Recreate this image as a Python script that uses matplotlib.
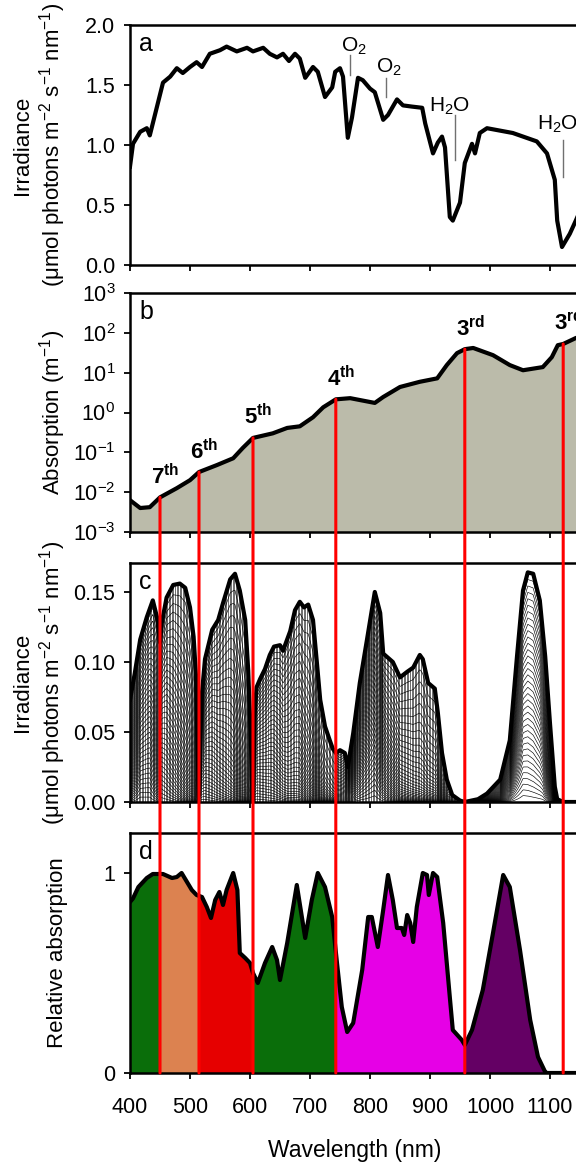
import numpy as np
import matplotlib
matplotlib.use("Agg")
import matplotlib.pyplot as plt
from matplotlib.patches import ConnectionPatch, Rectangle
from matplotlib.ticker import FormatStrFormatter, NullLocator

plt.rcParams['font.family'] = ['Liberation Sans', 'DejaVu Sans']
plt.rcParams['mathtext.fontset'] = 'custom'
plt.rcParams['mathtext.rm'] = 'Liberation Sans'
plt.rcParams['mathtext.it'] = 'Liberation Sans:italic'
plt.rcParams['mathtext.bf'] = 'Liberation Sans:bold'
plt.rcParams['mathtext.default'] = 'regular'

# (a) solar irradiance
a_wl = [400, 405, 417, 428, 433, 445, 455, 467, 478, 488, 500, 511, 520, 533, 550,
        561, 578, 595, 605, 622, 633, 645, 655, 665, 675, 683, 692, 705, 713, 725,
        737, 742, 750, 755, 763, 770, 780, 788, 800, 808, 822, 830, 845, 855, 870,
        887, 892, 905, 913, 920, 925, 933, 938, 950, 958, 970, 975, 983, 995, 1038,
        1078, 1095, 1108, 1112, 1120, 1133, 1143, 1150]
a_irr = [0.82, 1.01, 1.11, 1.14, 1.08, 1.32, 1.52, 1.57, 1.64, 1.60, 1.65, 1.69, 1.65, 1.76, 1.79,
         1.82, 1.78, 1.81, 1.78, 1.81, 1.76, 1.73, 1.76, 1.70, 1.76, 1.72, 1.56, 1.65, 1.61, 1.40,
         1.48, 1.61, 1.64, 1.57, 1.06, 1.23, 1.56, 1.54, 1.47, 1.44, 1.21, 1.25, 1.38, 1.33, 1.32,
         1.31, 1.18, 0.93, 1.02, 1.07, 0.98, 0.40, 0.37, 0.52, 0.85, 1.01, 0.93, 1.10, 1.14, 1.10,
         1.03, 0.93, 0.71, 0.37, 0.15, 0.26, 0.37, 0.45]

gas_labels = ['O$_2$', 'O$_2$', 'H$_2$O', 'H$_2$O']
gas_text_xy = [(773, 1.82), (832, 1.65), (932, 1.32), (1113, 1.17)]
gas_line_x = [767, 827, 942, 1122]
gas_line_y = [(1.75, 1.58), (1.56, 1.40), (1.25, 0.875), (1.04, 0.73)]

# (b) water absorption
b_wl = [400, 417, 433, 450, 478, 500, 515, 545, 572, 588, 605, 638, 662, 683, 705,
        722, 743, 767, 808, 822, 850, 883, 912, 928, 945, 958, 972, 1005, 1033, 1055,
        1088, 1103, 1113, 1122, 1143, 1150]
b_abs = [0.0063, 0.0040, 0.0042, 0.0074, 0.0126, 0.020, 0.032, 0.048, 0.071, 0.129, 0.23, 0.30, 0.41, 0.45, 0.76,
         1.35, 2.14, 2.29, 1.74, 2.45, 4.37, 5.9, 7.2, 15.5, 30.9, 38.9, 41.7, 27.5, 15.5, 11.5,
         13.8, 24.5, 49.0, 52.5, 74.0, 80.0]

overtone_wl = [450, 515, 605, 743, 958, 1122]
overtone_labels = ['7', '6', '5', '4', '3', '3']
overtone_suffix = ['th', 'th', 'th', 'th', 'rd', 'rd']

# (c) irradiance bands, outline of each band
c1_wl = [400, 408, 417, 428, 438, 445, 450]
c1_irr = [0.073, 0.092, 0.116, 0.132, 0.144, 0.132, 0.114]
c2_wl = [450, 453, 461, 472, 483, 492, 500, 506, 510, 513, 515]
c2_irr = [0.114, 0.128, 0.146, 0.155, 0.156, 0.153, 0.139, 0.118, 0.090, 0.035, 0.005]
c3_wl = [515, 517, 520, 525, 537, 547, 555, 567, 575, 583, 592, 597, 601, 604, 605]
c3_irr = [0.005, 0.045, 0.078, 0.102, 0.123, 0.130, 0.142, 0.159, 0.163, 0.151, 0.130, 0.094, 0.050, 0.010, 0.0]
c4_wl = [605, 607, 611, 617, 625, 633, 640, 650, 655, 667, 675, 683, 690, 697, 705,
         712, 717, 725, 733, 738, 743]
c4_irr = [0.0, 0.060, 0.082, 0.088, 0.095, 0.105, 0.111, 0.112, 0.108, 0.122, 0.137, 0.143, 0.139, 0.141, 0.130,
          0.097, 0.073, 0.054, 0.044, 0.038, 0.035]
c5_wl = [743, 750, 758, 763, 772, 783, 795, 803, 808, 817, 822, 830, 838, 850, 862,
         872, 883, 888, 897, 908, 913, 920, 928, 937, 950, 958]
c5_irr = [0.035, 0.037, 0.035, 0.025, 0.049, 0.085, 0.116, 0.137, 0.150, 0.135, 0.106, 0.103, 0.100, 0.089, 0.093,
          0.096, 0.105, 0.102, 0.085, 0.081, 0.064, 0.035, 0.016, 0.005, 0.001, 0.0]
c6_wl = [958, 980, 995, 1017, 1033, 1045, 1055, 1063, 1072, 1083, 1092, 1100, 1108, 1112, 1122, 1150]
c6_irr = [0.0, 0.002, 0.006, 0.016, 0.044, 0.104, 0.151, 0.164, 0.163, 0.144, 0.104, 0.056, 0.011, 0.002, 0.0, 0.0]
c_fractions = np.linspace(0.97, 0.03, 36)

# (d) relative absorption
d_wl = [400, 405, 414, 428, 438, 455, 470, 478, 486, 495, 503, 511, 520, 528, 535,
        542, 549, 555, 561, 572, 579, 583, 592, 600, 605, 613, 625, 637, 645, 650,
        662, 678, 692, 703, 713, 725, 737, 745, 753, 762, 772, 787, 797, 803, 813,
        822, 830, 838, 845, 853, 857, 862, 867, 872, 878, 888, 895, 898, 905, 912,
        922, 933, 938, 953, 958, 970, 988, 1005, 1022, 1033, 1050, 1067, 1080, 1092, 1095, 1150]
d_rel = [0.855, 0.873, 0.93, 0.975, 0.995, 0.995, 0.975, 0.98, 1.0, 0.955, 0.915, 0.89, 0.88, 0.83, 0.775,
         0.865, 0.905, 0.84, 0.915, 1.0, 0.915, 0.60, 0.575, 0.55, 0.50, 0.45, 0.55, 0.63, 0.565, 0.465,
         0.65, 0.94, 0.675, 0.865, 1.0, 0.93, 0.78, 0.55, 0.33, 0.205, 0.25, 0.515, 0.78, 0.78, 0.63,
         0.815, 0.99, 0.865, 0.725, 0.725, 0.69, 0.79, 0.75, 0.655, 0.83, 1.0, 0.99, 0.89, 1.0, 0.98,
         0.75, 0.38, 0.215, 0.165, 0.14, 0.215, 0.415, 0.70, 0.99, 0.93, 0.615, 0.265, 0.08, 0.005, 0.0, 0.0]
band_colors = ['#0a6e0a', '#dc8250', '#e60000', '#0a6e0a', '#e600e6', '#640064']

W, H = 576, 1162
fig = plt.figure(figsize=(W / 100, H / 100), dpi=100)


def panel(top, bottom):
    return fig.add_axes([130 / W, (H - bottom) / H, 450 / W, (bottom - top) / H])


ax_a = panel(25, 265)
ax_b = panel(293, 532)
ax_c = panel(563, 802)
ax_d = panel(833, 1073)

for ax in (ax_a, ax_b, ax_c, ax_d):
    ax.set_xlim(400, 1150)
    ax.set_xticks(range(400, 1101, 100))
    ax.tick_params(direction='out', length=4.5, width=1.3, labelsize=15.5)
    ax.tick_params(axis='y', pad=6)
    ax.tick_params(axis='x', pad=13)
    for s in ax.spines.values():
        s.set_linewidth(1.8)
    ax.yaxis.set_label_coords(-0.138, 0.5)
for ax in (ax_a, ax_b, ax_c):
    ax.tick_params(axis='x', labelbottom=False)

ylab_irr = 'Irradiance\n(μmol photons m$^{-2}$ s$^{-1}$ nm$^{-1}$)'

# panel a
ax_a.plot(a_wl, a_irr, color='black', lw=3, solid_joinstyle='round')
for lab, (tx, ty), lx, (y0, y1) in zip(gas_labels, gas_text_xy, gas_line_x, gas_line_y):
    ax_a.text(tx, ty, lab, ha='center', va='center', fontsize=15)
    ax_a.plot([lx, lx], [y0, y1], color='#707070', lw=1)
ax_a.set_ylim(0, 2.0)
ax_a.set_yticks([0, 0.5, 1.0, 1.5, 2.0])
ax_a.yaxis.set_major_formatter(FormatStrFormatter('%.1f'))
ax_a.set_ylabel(ylab_irr, fontsize=16, linespacing=1.2)

# panel b
ax_b.set_yscale('log')
ax_b.fill_between(b_wl, 1e-3, b_abs, color='#bbbbaa', lw=0)
ax_b.plot(b_wl, b_abs, color='black', lw=3, solid_joinstyle='round')
ax_b.set_ylim(1e-3, 1e3)
ax_b.set_yticks([10.0 ** k for k in range(-3, 4)])
ax_b.yaxis.set_minor_locator(NullLocator())
ax_b.set_ylabel('Absorption (m$^{-1}$)', fontsize=16)

b_log = np.log10(b_abs)
for x, num, suf in zip(overtone_wl, overtone_labels, overtone_suffix):
    top = 10 ** np.interp(x, b_wl, b_log)
    ax_b.annotate(r'$\mathbf{%s^{%s}}$' % (num, suf), xy=(x, top), xytext=(4, 6),
                  textcoords='offset points', ha='center', va='bottom', fontsize=16)
    con = ConnectionPatch(xyA=(x, top), coordsA=ax_b.transData, xyB=(x, 0), coordsB=ax_d.transData,
                          color='red', lw=2.2, zorder=5)
    fig.add_artist(con)

# panel c
c_bands = [(c1_wl, c1_irr), (c2_wl, c2_irr), (c3_wl, c3_irr),
           (c4_wl, c4_irr), (c5_wl, c5_irr), (c6_wl, c6_irr)]
for i, (wl, irr) in enumerate(c_bands):
    grid = np.linspace(wl[0], wl[-1], 160)
    env = np.interp(grid, wl, irr)
    absn = 10 ** np.interp(grid, b_wl, b_log)
    ratio = absn / absn.min()
    for f in c_fractions:
        ax_c.plot(grid, env * f ** ratio, color='black', lw=0.45)
    if i < 5:
        xs = np.arange(wl[0] + 1.5, wl[-1], 2.6)
        ax_c.vlines(xs, 0, np.interp(xs, wl, irr), color='black', lw=0.4)
env_wl = np.concatenate([w for w, _ in c_bands])
env_irr = np.concatenate([v for _, v in c_bands])
ax_c.plot(env_wl, env_irr, color='black', lw=3, solid_joinstyle='round')
ax_c.set_ylim(0, 0.1707)
ax_c.set_yticks([0, 0.05, 0.10, 0.15])
ax_c.yaxis.set_major_formatter(FormatStrFormatter('%.2f'))
ax_c.set_ylabel(ylab_irr, fontsize=16, linespacing=1.2)

# panel d
edges = [400] + overtone_wl
for lo, hi, col in zip(edges[:-1], edges[1:], band_colors):
    poly = ax_d.fill_between(d_wl, 0, d_rel, color=col, lw=0)
    poly.set_clip_path(Rectangle((lo, 0), hi - lo, 2, transform=ax_d.transData))
ax_d.plot(d_wl, d_rel, color='black', lw=3, solid_joinstyle='round')
ax_d.set_ylim(0, 1.2)
ax_d.set_yticks([0, 1])
ax_d.set_ylabel('Relative absorption', fontsize=16)
ax_d.set_xlabel('Wavelength (nm)', fontsize=16.5, labelpad=15)

for ax, letter in zip((ax_a, ax_b, ax_c, ax_d), 'abcd'):
    ax.text(0.02, 0.89, letter, transform=ax.transAxes, fontsize=18, va='baseline', ha='left')

fig.savefig('out.png', dpi=100)
